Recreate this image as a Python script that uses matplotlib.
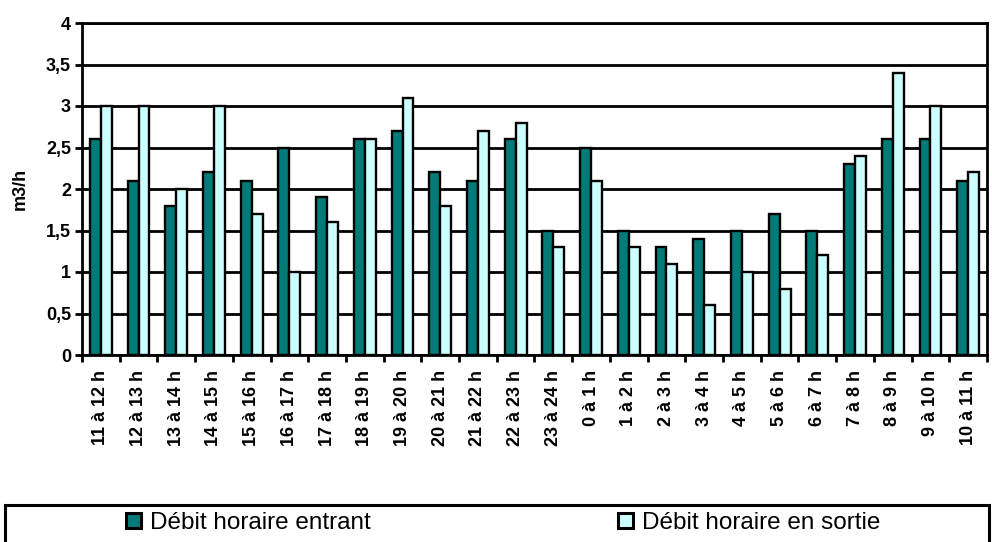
import numpy as np
import matplotlib.pyplot as plt
from matplotlib.patches import Rectangle

plt.rcParams['font.family'] = ['Liberation Sans', 'DejaVu Sans']

# Hourly slots and flow values (m3/h)
hours = ['11 à 12 h', '12 à 13 h', '13 à 14 h', '14 à 15 h', '15 à 16 h', '16 à 17 h',
         '17 à 18 h', '18 à 19 h', '19 à 20 h', '20 à 21 h', '21 à 22 h', '22 à 23 h',
         '23 à 24 h', '0 à 1 h', '1 à 2 h', '2 à 3 h', '3 à 4 h', '4 à 5 h',
         '5 à 6 h', '6 à 7 h', '7 à 8 h', '8 à 9 h', '9 à 10 h', '10 à 11 h']
debit_entrant = [2.6, 2.1, 1.8, 2.2, 2.1, 2.5, 1.9, 2.6, 2.7, 2.2, 2.1, 2.6,
                 1.5, 2.5, 1.5, 1.3, 1.4, 1.5, 1.7, 1.5, 2.3, 2.6, 2.6, 2.1]
debit_sortie = [3.0, 3.0, 2.0, 3.0, 1.7, 1.0, 1.6, 2.6, 3.1, 1.8, 2.7, 2.8,
                1.3, 2.1, 1.3, 1.1, 0.6, 1.0, 0.8, 1.2, 2.4, 3.4, 3.0, 2.2]
y_ticks = [0, 0.5, 1, 1.5, 2, 2.5, 3, 3.5, 4]
y_labels = ['0', '0,5', '1', '1,5', '2', '2,5', '3', '3,5', '4']

dark = '#007B78'
light = '#CCFFFF'

fig = plt.figure(figsize=(9.92, 5.42), dpi=100)
ax = fig.add_axes([82 / 992, 1 - 355 / 542, 905 / 992, 332 / 542])

x = np.arange(len(hours))
w = 0.29
b1 = ax.bar(x - w / 2, debit_entrant, w, color=dark, edgecolor='black', linewidth=1.7, zorder=3)
b2 = ax.bar(x + w / 2, debit_sortie, w, color=light, edgecolor='black', linewidth=1.7, zorder=3)

ax.set_xlim(-0.5, len(hours) - 0.5)
ax.set_ylim(0, 4)
ax.set_yticks(y_ticks)
ax.set_yticklabels(y_labels, fontsize=13, fontweight='bold')
ax.yaxis.grid(True, color='black', linewidth=2, zorder=0)
ax.set_axisbelow(True)

# category ticks sit on the boundaries, labels in the middle
ax.set_xticks(np.arange(len(hours) + 1) - 0.5)
ax.set_xticklabels([])
ax.set_xticks(x, minor=True)
ax.set_xticklabels(hours, minor=True, rotation=90, fontsize=13, fontweight='bold')
ax.tick_params(axis='x', which='minor', length=0, pad=11)
ax.tick_params(axis='x', which='major', length=5, width=2, direction='out')
ax.tick_params(axis='y', length=5, width=2, direction='out', pad=3)

for s in ax.spines.values():
    s.set_linewidth(2)
    s.set_color('black')

ax.set_ylabel('m3/h', fontsize=13, fontweight='bold', labelpad=12)

# legend box, running off the bottom of the image
fig.patches.append(Rectangle((5 / 992, -0.02), 984 / 992, 0.02 + 1 - 505 / 542,
                             transform=fig.transFigure, fill=False,
                             edgecolor='black', linewidth=2.2))
yl = 1 - 523 / 542
for handle, label, xpos in [(b1, 'Débit horaire entrant', 126 / 992),
                            (b2, 'Débit horaire en sortie', 618 / 992)]:
    leg = fig.legend([handle], [label], loc='center left', bbox_to_anchor=(xpos, yl),
                     frameon=False, fontsize=17.5, handlelength=0.6, handleheight=0.6,
                     handletextpad=0.4, borderpad=0, borderaxespad=0)
    for p in leg.get_patches():
        p.set_linewidth(2.2)

fig.savefig('out.png', dpi=100)
